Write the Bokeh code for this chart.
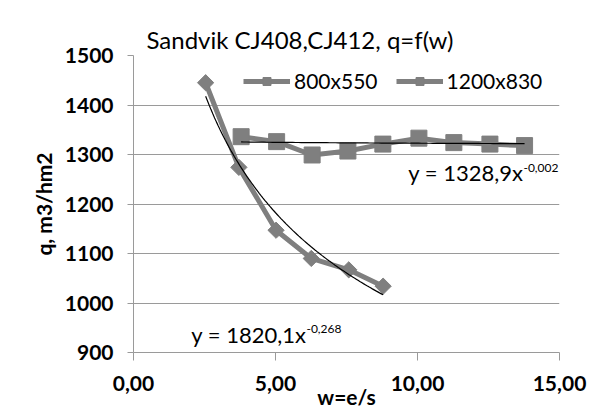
import numpy as np
from bokeh.plotting import figure
from bokeh.models import (Range1d, FixedTicker, Legend, LegendItem, Label, ColumnDataSource)
from bokeh.embed import file_html
from bokeh.resources import INLINE

# ---- data ----
title_text = "Sandvik CJ408,CJ412, q=f(w)"
x_label = "w=e/s"
y_label = "q, m3/hm2"

s1_name = "800x550"
s1_x = [2.54, 3.71, 5.02, 6.26, 7.58, 8.79]
s1_y = [1445, 1274, 1147, 1090, 1067, 1034]

s2_name = "1200x830"
s2_x = [3.79, 5.04, 6.29, 7.55, 8.78, 10.05, 11.28, 12.55, 13.77]
s2_y = [1336, 1326, 1299, 1307, 1321, 1333, 1324, 1321, 1318]

# power trendlines y = a * x^b (coefficients as printed on the chart)
t1_a, t1_b = 1820.1, -0.268
t2_a, t2_b = 1328.9, -0.002
t1_main, t1_sup = "y = 1820,1x", "-0,268"
t2_main, t2_sup = "y = 1328,9x", "-0,002"

x_ticks = [0, 5, 10, 15]
x_tick_labels = ["0,00", "5,00", "10,00", "15,00"]
y_ticks = [900, 1000, 1100, 1200, 1300, 1400, 1500]

GREY = "#7f7f7f"
AXIS = "#9a9a9a"
FONT = "Lato"

p = figure(width=605, height=411, output_backend="svg", toolbar_location=None,
           x_range=Range1d(0, 15), y_range=Range1d(900, 1500),
           min_border_left=133, min_border_right=46, min_border_top=55, min_border_bottom=58,
           title=title_text)
p.outline_line_color = None
p.background_fill_color = "white"
p.border_fill_color = "white"

p.title.text_font = FONT
p.title.text_font_size = "24px"
p.title.text_font_style = "normal"
p.title.text_color = "black"
p.title.align = "left"
p.title.offset = 13
p.title.standoff = 4

# axes
p.xaxis.ticker = FixedTicker(ticks=x_ticks)
p.xaxis.major_label_overrides = {t: l for t, l in zip(x_ticks, x_tick_labels)}
p.yaxis.ticker = FixedTicker(ticks=y_ticks)
for ax in (p.xaxis, p.yaxis):
    ax.axis_line_color = AXIS
    ax.major_tick_line_color = AXIS
    ax.minor_tick_line_color = None
    ax.major_tick_in = 0
    ax.major_label_text_font = FONT
    ax.major_label_text_font_size = "21px"
    ax.major_label_text_font_style = "bold"
    ax.major_label_text_color = "black"
    ax.axis_label_text_font = FONT
    ax.axis_label_text_font_size = "21px"
    ax.axis_label_text_font_style = "bold"
    ax.axis_label_text_color = "black"
p.xaxis.major_tick_out = 8
p.yaxis.major_tick_out = 6
p.xaxis.major_label_standoff = 15
p.yaxis.major_label_standoff = 14

p.yaxis.axis_label = y_label
p.yaxis.axis_label_standoff = 6
p.xaxis.axis_label = x_label
p.xaxis.axis_label_standoff = -10

p.xgrid.grid_line_color = None
p.ygrid.grid_line_color = AXIS
p.ygrid.grid_line_width = 1

# series
src1 = ColumnDataSource(dict(x=s1_x, y=s1_y))
src2 = ColumnDataSource(dict(x=s2_x, y=s2_y))
l1 = p.line("x", "y", source=src1, line_color=GREY, line_width=5)
m1 = p.scatter("x", "y", source=src1, marker="square", angle=np.pi / 4, size=11.5,
               fill_color=GREY, line_color=GREY)
l2 = p.line("x", "y", source=src2, line_color=GREY, line_width=5)
m2 = p.scatter("x", "y", source=src2, marker="square", size=16,
               fill_color=GREY, line_color=GREY)

# trendlines
tx1 = np.linspace(min(s1_x), max(s1_x), 100)
tx2 = np.linspace(min(s2_x), max(s2_x), 100)
p.line(tx1, t1_a * tx1 ** t1_b, line_color="black", line_width=1.2)
p.line(tx2, t2_a * tx2 ** t2_b, line_color="black", line_width=1.2)

# trendline equations
def equation(x, y, main, sup):
    p.add_layout(Label(x=x, y=y, text=main, text_font=FONT, text_font_size="22px",
                       text_align="right", text_baseline="middle", text_color="black"))
    p.add_layout(Label(x=x, y=y, y_offset=5, text=sup, text_font=FONT, text_font_size="12px",
                       text_align="left", text_baseline="middle", text_color="black"))

equation(13.73, 1263, t2_main, t2_sup)
equation(6.09, 937, t1_main, t1_sup)

legend = Legend(items=[LegendItem(label=s1_name, renderers=[l1, m1]),
                       LegendItem(label=s2_name, renderers=[l2, m2])],
                orientation="horizontal", location=(110, 259),
                padding=0, margin=0, spacing=18, label_standoff=4,
                glyph_width=47, glyph_height=20, label_height=20,
                border_line_alpha=0, background_fill_alpha=0,
                label_text_font=FONT, label_text_font_size="21px", label_text_color="black")
p.add_layout(legend)

open("out.html", "w").write(file_html(p, INLINE))
